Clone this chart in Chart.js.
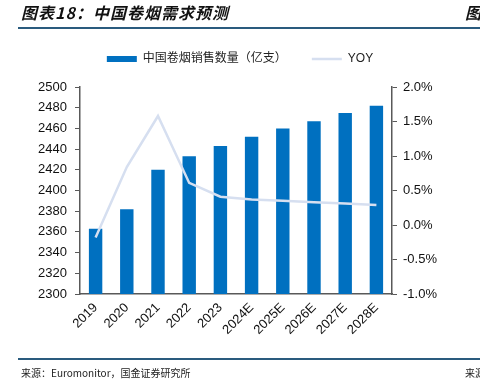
<!DOCTYPE html>
<html>
<head>
<meta charset="utf-8">
<script src="https://cdn.jsdelivr.net/npm/chart.js@4.4.1/dist/chart.umd.min.js"></script>
<style>
  body { margin: 0; width: 480px; height: 380px; overflow: hidden; background: #fff; position: relative; }
  #chart { position: absolute; left: 0; top: 0; }
  .title { position: absolute; top: 0; font: italic bold 16px "Noto Sans CJK SC", sans-serif; color: #111; letter-spacing: 1px; white-space: nowrap; }
  .rule { position: absolute; left: 18px; right: 0; height: 2px; background: #2a5b7e; }
  .source { position: absolute; font: 10px "Noto Sans CJK SC", sans-serif; color: #222; white-space: nowrap; }
</style>
</head>
<body>
<canvas id="chart" width="480" height="380"></canvas>
<div class="title" style="left:21px">图表18：中国卷烟需求预测</div>
<div class="title" style="left:465px">图表19</div>
<div class="rule" style="top:27px"></div>
<div class="rule" style="top:358px"></div>
<div class="source" style="left:21px;top:365px">来源：Euromonitor，国金证券研究所</div>
<div class="source" style="left:465px;top:365px">来源</div>
<script>
const categories = ['2019', '2020', '2021', '2022', '2023', '2024E', '2025E', '2026E', '2027E', '2028E'];
const salesValues = [2363, 2382, 2420, 2433, 2443, 2452, 2460, 2467, 2475, 2482];
const yoyValues = [-0.18, 0.84, 1.58, 0.61, 0.41, 0.37, 0.35, 0.33, 0.31, 0.29];
const leftTicks = { min: 2300, max: 2500, step: 20 };
const rightTicks = { min: -1, max: 2, step: 0.5 };

Chart.defaults.font.family = '"Liberation Sans", "Noto Sans CJK SC", sans-serif';
Chart.defaults.color = '#222';

const axisColor = '#595959';

// extra room between the legend and the plot
const legendGap = {
    id: 'legendGap',
    beforeInit(chart) {
        const fit = chart.legend.fit;
        chart.legend.fit = function() {
            fit.call(this);
            this.height += 12;
        };
    }
};

new Chart(document.getElementById('chart'), {
    type: 'bar',
    data: {
        labels: categories,
        datasets: [{
            type: 'bar',
            label: '中国卷烟销售数量（亿支）',
            data: salesValues,
            backgroundColor: '#0070C0',
            yAxisID: 'y',
            barPercentage: 0.43,
            categoryPercentage: 1,
            pointStyle: 'rect',
            order: 1
        }, {
            type: 'line',
            label: 'YOY',
            data: yoyValues,
            borderColor: '#D6DFF0',
            backgroundColor: '#D6DFF0',
            borderWidth: 2.5,
            pointRadius: 0,
            pointStyle: 'line',
            tension: 0,
            yAxisID: 'y1',
            order: 0
        }]
    },
    options: {
        responsive: false,
        animation: false,
        layout: { padding: { top: 28, left: 0, right: 0, bottom: 0 } },
        plugins: {
            legend: {
                position: 'top',
                labels: {
                    usePointStyle: true,
                    pointStyleWidth: 30,
                    boxWidth: 30,
                    boxHeight: 6,
                    padding: 25,
                    font: { size: 12 },
                    color: '#222',
                    sort: (a, b) => a.datasetIndex - b.datasetIndex
                }
            },
            tooltip: { enabled: false }
        },
        scales: {
            x: {
                offset: true,
                grid: { display: false, drawTicks: false },
                border: { color: axisColor, width: 1.5 },
                ticks: { maxRotation: 45, minRotation: 45, padding: 6, font: { size: 13 }, color: '#111' },
                afterFit: (scale) => { scale.height = 86; }
            },
            y: {
                position: 'left',
                min: leftTicks.min,
                max: leftTicks.max,
                grid: { drawOnChartArea: false, drawTicks: true, tickLength: 5, color: axisColor },
                border: { color: axisColor, width: 1.5 },
                ticks: {
                    stepSize: leftTicks.step,
                    padding: 8,
                    font: { size: 13 },
                    color: '#111',
                    callback: (v) => String(v)
                },
                afterFit: (scale) => { scale.width = 80; }
            },
            y1: {
                position: 'right',
                min: rightTicks.min,
                max: rightTicks.max,
                grid: { drawOnChartArea: false, drawTicks: true, tickLength: 5, color: axisColor },
                border: { color: axisColor, width: 1.5 },
                ticks: {
                    stepSize: rightTicks.step,
                    padding: 6,
                    font: { size: 13 },
                    color: '#111',
                    callback: (v) => v.toFixed(1) + '%'
                },
                afterFit: (scale) => { scale.width = 88; }
            }
        }
    },
    plugins: [legendGap]
});
</script>
</body>
</html>
